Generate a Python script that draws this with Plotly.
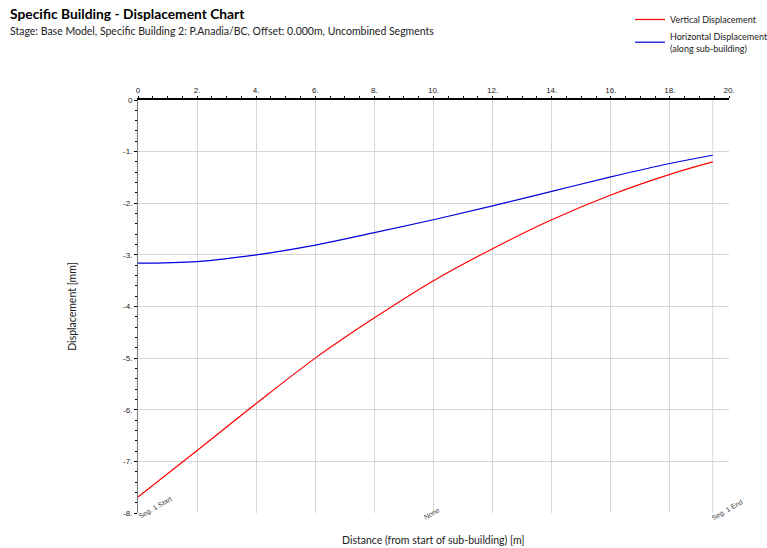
import plotly.graph_objects as go

# ---- data ----
distance = [0, 2, 4, 6, 8, 10, 12, 14, 16, 18, 19.45]
vertical_disp = [-7.69, -6.79, -5.88, -5.00, -4.22, -3.50, -2.88, -2.32, -1.84, -1.44, -1.20]
horizontal_disp = [-3.16, -3.13, -3.00, -2.81, -2.57, -2.32, -2.05, -1.77, -1.49, -1.23, -1.07]

x_ticks = [0, 2, 4, 6, 8, 10, 12, 14, 16, 18, 20]
x_tick_text = ["0", "2.", "4.", "6.", "8.", "10.", "12.", "14.", "16.", "18.", "20."]
y_ticks = [0, -1, -2, -3, -4, -5, -6, -7, -8]
y_tick_text = ["0", "-1.", "-2.", "-3.", "-4.", "-5.", "-6.", "-7.", "-8."]

segment_labels = ["Seg. 1 Start", "None", "Seg. 1 End"]
segment_pos = [0, 10, distance[-1]]

W, H = 767, 548
ML, MR, MT, MB = 138, 38, 100, 35
PW = W - ML - MR
PH = H - MT - MB

GRID = "#d6d6d6"
TICKFONT = dict(family="Liberation Sans, Arial", size=8, color="#222222")
UIFONT = "Lato, Noto Sans, sans-serif"

fig = go.Figure()
fig.add_trace(go.Scatter(
    x=distance, y=vertical_disp, mode="lines", name="Vertical Displacement",
    line=dict(color="#ff0000", width=1.2, shape="spline", smoothing=1.0)))
fig.add_trace(go.Scatter(
    x=distance, y=horizontal_disp, mode="lines",
    name="Horizontal Displacement<br>(along sub-building)",
    line=dict(color="#0000dd", width=1.2, shape="spline", smoothing=1.0)))

fig.update_xaxes(
    side="top", range=[0, 20], tickvals=x_ticks, ticktext=x_tick_text,
    showgrid=True, gridcolor=GRID, gridwidth=1, zeroline=False,
    showline=True, linecolor="black", linewidth=1.5,
    ticks="outside", ticklen=2, tickcolor="black", tickfont=TICKFONT,
    minor=dict(dtick=0.5, ticks="outside", ticklen=2, tickcolor="black", showgrid=False),
)
fig.update_yaxes(
    range=[-8, 0], tickvals=y_ticks, ticktext=y_tick_text,
    showgrid=True, gridcolor=GRID, gridwidth=1, zeroline=False,
    showline=True, linecolor="#777777", linewidth=1,
    ticks="outside", ticklen=3, tickcolor="black", tickfont=TICKFONT,
    minor=dict(dtick=0.2, ticks="outside", ticklen=2, tickcolor="black", showgrid=False),
    title=dict(text="Displacement [mm]", font=dict(family=UIFONT, size=10.5, color="#222222"), standoff=44),
)

# vertical grid line at the end of the sub-building
fig.add_shape(type="line", xref="x", yref="paper", x0=distance[-1], x1=distance[-1], y0=0, y1=1,
              line=dict(color=GRID, width=1), layer="below")

# segment labels under the chart
seg_shift = [(17, 5), (-2, 0), (15, 3)]
for lab, pos, (dx, dy) in zip(segment_labels, segment_pos, seg_shift):
    fig.add_annotation(x=pos, y=0, xref="x", yref="paper", text=lab, showarrow=False,
                       textangle=-30, xanchor="center", yanchor="middle",
                       xshift=dx, yshift=dy,
                       font=dict(family="Liberation Sans, Arial", size=7, color="#444444"))

# titles
fig.add_annotation(x=(8 - ML) / PW, y=1 + (MT - 13) / PH, xref="paper", yref="paper",
                   text="<b>Specific Building - Displacement Chart</b>", showarrow=False,
                   xanchor="left", yanchor="middle",
                   font=dict(family=UIFONT, size=13.8, color="black"))
fig.add_annotation(x=(8 - ML) / PW, y=1 + (MT - 31) / PH, xref="paper", yref="paper",
                   text="Stage: Base Model, Specific Building 2: P.Anadia/BC, Offset: 0.000m, Uncombined Segments",
                   showarrow=False, xanchor="left", yanchor="middle",
                   font=dict(family=UIFONT, size=10.5, color="#222222"))
fig.add_annotation(x=0.5, y=-(540 - (H - MB)) / PH, xref="paper", yref="paper",
                   text="Distance (from start of sub-building) [m]", showarrow=False,
                   xanchor="center", yanchor="middle",
                   font=dict(family=UIFONT, size=10.5, color="#222222"))

fig.update_layout(
    width=W, height=H,
    margin=dict(l=ML, r=MR, t=MT, b=MB, autoexpand=False),
    paper_bgcolor="white", plot_bgcolor="white",
    showlegend=True,
    legend=dict(xref="container", yref="container", x=630 / W, y=1 - 5 / H,
                xanchor="left", yanchor="top", bgcolor="rgba(0,0,0,0)",
                font=dict(family=UIFONT, size=9, color="#222222"),
                itemwidth=30, tracegroupgap=0),
)

fig.write_html("out.html")
